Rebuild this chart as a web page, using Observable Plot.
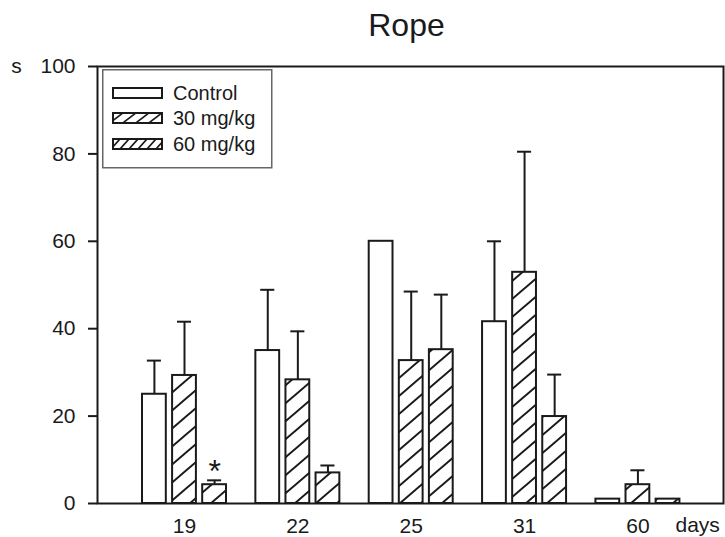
<!DOCTYPE html>
<html>
<head>
<meta charset="utf-8">
<script src="https://cdn.jsdelivr.net/npm/d3@7"></script>
<script src="https://cdn.jsdelivr.net/npm/@observablehq/plot@0.6"></script>
<style>
  html, body { margin: 0; padding: 0; background: #fff; }
  #wrap { position: relative; width: 725px; height: 537px; font-family: "Liberation Sans", Arial, sans-serif; }
  #legend { position: absolute; left: 102px; top: 69px; }
</style>
</head>
<body>
<svg width="0" height="0" style="position:absolute">
  <defs>
    <pattern id="hatch30" patternUnits="userSpaceOnUse" width="21" height="18">
      <rect width="21" height="18" fill="#fff"/>
      <path d="M0,18 L21,0 M-3,2.57 L3,-2.57 M18,20.57 L24,15.43" stroke="#1a1a1a" stroke-width="2"/>
    </pattern>
    <pattern id="hatch60" patternUnits="userSpaceOnUse" width="21" height="18">
      <rect width="21" height="18" fill="#fff"/>
      <path d="M0,18 L21,0 M-3,2.57 L3,-2.57 M18,20.57 L24,15.43" stroke="#1a1a1a" stroke-width="2"/>
    </pattern>
    <pattern id="leg30" patternUnits="userSpaceOnUse" width="13" height="10">
      <rect width="13" height="10" fill="#fff"/>
      <path d="M0,10 L13,0 M-3,2.3 L3,-2.3 M10,12.3 L16,7.7" stroke="#1a1a1a" stroke-width="1.7"/>
    </pattern>
    <pattern id="leg60" patternUnits="userSpaceOnUse" width="9" height="10">
      <rect width="9" height="10" fill="#fff"/>
      <path d="M0,10 L9,0 M-3,3.3 L3,-3.3 M6,13.3 L12,6.7" stroke="#1a1a1a" stroke-width="1.7"/>
    </pattern>
  </defs>
</svg>
<div id="wrap">
  <div id="chart"></div>
  <svg id="legend" width="171" height="100">
    <rect x="0.75" y="0.75" width="169" height="98" fill="#fff" stroke="#666" stroke-width="1.5"/>
    <rect x="11" y="19" width="49" height="10" fill="#fff" stroke="#1a1a1a" stroke-width="2"/>
    <rect x="11" y="44" width="49" height="10" fill="url(#leg30)" stroke="#1a1a1a" stroke-width="2"/>
    <rect x="11" y="70" width="49" height="10" fill="url(#leg60)" stroke="#1a1a1a" stroke-width="2"/>
    <text x="71" y="31" font-size="20" fill="#1a1a1a" font-family="Liberation Sans, Arial, sans-serif">Control</text>
    <text x="71" y="56" font-size="20" fill="#1a1a1a" font-family="Liberation Sans, Arial, sans-serif">30 mg/kg</text>
    <text x="71" y="82" font-size="20" fill="#1a1a1a" font-family="Liberation Sans, Arial, sans-serif">60 mg/kg</text>
  </svg>
</div>
<script>
const days = ["19", "22", "25", "31", "60"];
const seriesNames = ["Control", "30 mg/kg", "60 mg/kg"];
const controlMean = [25.0, 35.0, 60.0, 41.6, 1.0];
const controlErr  = [7.7, 13.9, 0, 18.4, 0];
const dose30Mean  = [29.3, 28.3, 32.7, 52.9, 4.3];
const dose30Err   = [12.3, 11.1, 15.8, 27.6, 3.3];
const dose60Mean  = [4.3, 7.0, 35.2, 19.9, 1.0];
const dose60Err   = [1.0, 1.7, 12.6, 9.6, 0];
const significant = [{day: "19", series: "60 mg/kg", label: "*"}];

const fills = {"Control": "#fff", "30 mg/kg": "url(#hatch30)", "60 mg/kg": "url(#hatch60)"};
const means = [controlMean, dose30Mean, dose60Mean];
const errs = [controlErr, dose30Err, dose60Err];

const offset = 0.2655, halfW = 0.105, capHalf = 0.062;
const rows = [];
seriesNames.forEach((s, si) => {
  days.forEach((d, di) => {
    const xc = di + (si - 1) * offset;
    rows.push({day: d, series: s, xc, x1: xc - halfW, x2: xc + halfW,
               value: means[si][di], err: errs[si][di], top: means[si][di] + errs[si][di]});
  });
});
const errRows = rows.filter(r => r.err > 0);
const starRows = significant.map(s => rows.find(r => r.day === s.day && r.series === s.series)).map((r, i) => ({...r, label: significant[i].label}));

const ink = "#1a1a1a";
const chart = Plot.plot({
  width: 725,
  height: 537,
  marginLeft: 97,
  marginRight: 2,
  marginTop: 66,
  marginBottom: 34,
  style: {fontFamily: "'Liberation Sans', Arial, sans-serif", fontSize: "21px", color: ink, background: "#fff"},
  x: {type: "linear", domain: [-0.7675, 4.755]},
  y: {domain: [0, 100]},
  marks: [
    ...seriesNames.map(s => Plot.rectY(rows.filter(r => r.series === s), {
      x1: "x1", x2: "x2", y1: 0, y2: "value", fill: fills[s], stroke: ink, strokeWidth: 2
    })),
    Plot.ruleX(errRows, {x: "xc", y1: "value", y2: "top", stroke: ink, strokeWidth: 2}),
    Plot.ruleY(errRows, {y: "top", x1: d => d.xc - capHalf, x2: d => d.xc + capHalf, stroke: ink, strokeWidth: 2}),
    Plot.text(starRows, {x: "xc", y: "top", text: "label", dy: -9, fontSize: 32, fill: ink}),
    Plot.frame({stroke: ink, strokeWidth: 2}),
    Plot.axisY({ticks: [0, 20, 40, 60, 80, 100], tickSize: 9, tickPadding: 13, strokeWidth: 2, stroke: ink, label: null}),
    Plot.axisX({ticks: [0, 1, 2, 3, 4], tickFormat: i => days[i], tickSize: 0, tickPadding: 15, label: null}),
    Plot.text(["days"], {frameAnchor: "bottom-right", text: d => d, textAnchor: "start", lineAnchor: "middle", dx: -48, dy: 22, fill: ink}),
    Plot.text(["s"], {frameAnchor: "top-left", text: d => d, textAnchor: "middle", lineAnchor: "middle", dx: -81, fill: ink}),
    Plot.text(["Rope"], {frameAnchor: "top", text: d => d, lineAnchor: "middle", dx: -4, dy: -41, fontSize: 32, fill: ink})
  ]
});
document.getElementById("chart").appendChild(chart);
</script>
</body>
</html>
